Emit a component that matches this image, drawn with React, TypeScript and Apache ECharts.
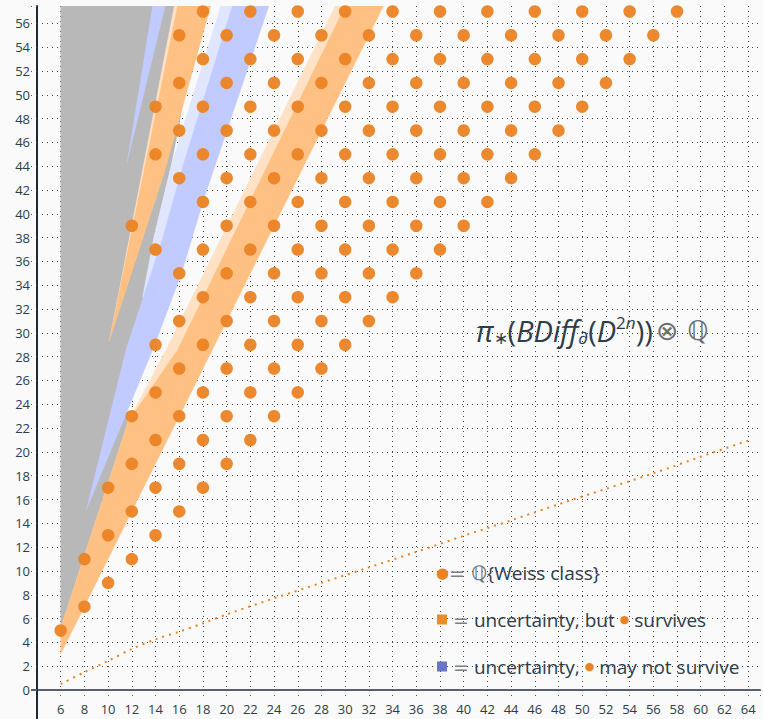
import React, { useEffect, useRef } from 'react';
import * as echarts from 'echarts';

// ---- axis ranges & tick labels ----
const X_MIN = 4;
const X_MAX = 65;
const Y_MIN = 0;
const Y_MAX = 57.46;
const xTickLabels = [6, 8, 10, 12, 14, 16, 18, 20, 22, 24, 26, 28, 30, 32, 34, 36, 38, 40, 42, 44, 46, 48, 50, 52, 54, 56, 58, 60, 62, 64];
const yTickLabels = [0, 2, 4, 6, 8, 10, 12, 14, 16, 18, 20, 22, 24, 26, 28, 30, 32, 34, 36, 38, 40, 42, 44, 46, 48, 50, 52, 54, 56];

// ---- Weiss classes: one row per degree y, listing the x positions ----
const weissRowY = [5, 7, 9, 11, 13, 15, 17, 19, 21, 23, 25, 27, 29, 31, 33, 35, 37, 39, 41, 43, 45, 47, 49, 51, 53, 55, 57];
const weissRowX = [
  [6],
  [8],
  [10],
  [8, 12],
  [10, 14],
  [12, 16],
  [10, 14, 18],
  [12, 16, 20],
  [14, 18, 22],
  [12, 16, 20, 24],
  [14, 18, 22, 26],
  [16, 20, 24, 28],
  [14, 18, 22, 26, 30],
  [16, 20, 24, 28, 32],
  [18, 22, 26, 30, 34],
  [16, 20, 24, 28, 32, 36],
  [14, 18, 22, 26, 30, 34, 38],
  [12, 20, 24, 28, 32, 36, 40],
  [18, 22, 26, 30, 34, 38, 42],
  [16, 20, 24, 28, 32, 36, 40, 44],
  [14, 18, 22, 26, 30, 34, 38, 42, 46],
  [16, 20, 24, 28, 32, 36, 40, 44, 48],
  [14, 18, 22, 26, 30, 34, 38, 42, 46, 50],
  [16, 20, 24, 28, 32, 36, 40, 44, 48, 52],
  [18, 22, 26, 30, 34, 38, 42, 46, 50, 54],
  [16, 20, 24, 28, 32, 36, 40, 44, 48, 52, 56],
  [18, 22, 26, 30, 34, 38, 42, 46, 50, 54, 58],
];

// ---- dotted boundary curve ----
const curveX = [6, 8, 10, 12, 14, 16, 18, 20, 24, 28, 32, 36, 40, 44, 48, 52, 56, 60, 64];
const curveY = [0.5, 1.5, 2.45, 3.45, 4.25, 4.9, 5.6, 6.35, 7.7, 9.0, 10.3, 11.6, 12.95, 14.25, 15.6, 16.9, 18.2, 19.6, 20.95];

// ---- shaded regions (data coordinates) ----
const grayRegion = [[6, 5.2], [6, 57.46], [17.6, 57.46], [16.0, 47.5], [15.3, 44], [13.85, 38], [13.0, 30], [11.5, 24], [11.67, 22.54]];
const peachBand = [[11.67, 22.54], [14.88, 28.56], [29.16, 57.46], [33.23, 57.46], [15.77, 22.54]];
const orangeBand = [[6, 3], [6, 5.2], [11.67, 22.54], [15.85, 28.56], [30.0, 57.46], [33.23, 57.46]];
const lightBlueBand = [[12.9, 33], [13.85, 38], [15.3, 44], [19.5, 57.46], [21.0, 57.46], [15.0, 33]];
const blueBand = [[8.15, 15.1], [11.5, 28.56], [14.6, 38], [16.3, 44], [20.47, 57.46], [23.56, 57.46], [18.0, 41], [16.2, 35], [13.9, 28.9]];
const blueSliver = [[11.6, 44.3], [13.75, 57.46], [14.82, 57.46]];
const peachWedge = [[10.1, 29.3], [15.58, 57.46], [15.95, 57.46]];
const orangeWedge = [[10.1, 29.3], [15.85, 57.46], [18.66, 57.46], [14.7, 43.3]];

const GRAY = '#B8B8B8';
const PEACH = '#FFE2C5';
const ORANGE = '#FFC183';
const LIGHT_BLUE = '#E1E6FF';
const BLUE = '#C1CBFF';
const DOT = '#EB8323';
const TEXT = '#2E3D4A';
const FONT = 'Open Sans';

const regions = [
  { pts: grayRegion, color: GRAY },
  { pts: peachBand, color: PEACH },
  { pts: orangeBand, color: ORANGE },
  { pts: lightBlueBand, color: LIGHT_BLUE },
  { pts: blueBand, color: BLUE },
  { pts: blueSliver, color: BLUE },
  { pts: peachWedge, color: PEACH },
  { pts: orangeWedge, color: ORANGE },
];

export default function App() {
  const ref = useRef<HTMLDivElement>(null);

  useEffect(() => {
    if (!ref.current) return;
    const chart = echarts.init(ref.current, undefined, { renderer: 'svg' });

    const weissData: number[][] = [];
    weissRowY.forEach((y, i) => weissRowX[i].forEach((x) => weissData.push([x, y])));
    const curveData = curveX.map((x, i) => [x, curveY[i]]);

    chart.setOption({
      animation: false,
      backgroundColor: '#FAFAFA',
      grid: { left: 37, right: 0, top: 6, bottom: 29, containLabel: false },
      xAxis: {
        type: 'value',
        min: X_MIN,
        max: X_MAX,
        interval: 2,
        axisLine: { onZero: false, lineStyle: { color: '#56616B', width: 2 } },
        axisTick: { show: true, length: 6, lineStyle: { color: '#555', width: 1, type: [1, 4] } },
        axisLabel: {
          color: TEXT,
          fontSize: 13,
          fontFamily: FONT,
          margin: 12,
          formatter: (v: number) => (xTickLabels.indexOf(v) >= 0 ? String(v) : ''),
        },
        splitLine: {
          show: true,
          showMinLine: false,
          showMaxLine: false,
          lineStyle: { color: '#444', width: 1, type: [1, 4] },
        },
      },
      yAxis: {
        type: 'value',
        min: Y_MIN,
        max: Y_MAX,
        interval: 2,
        axisLine: { show: true, lineStyle: { color: '#1C2833', width: 2 } },
        axisTick: { show: true, length: 6, lineStyle: { color: '#555', width: 1, type: [1, 4] } },
        axisLabel: {
          color: TEXT,
          fontSize: 13,
          fontFamily: FONT,
          margin: 7,
          formatter: (v: number) => (yTickLabels.indexOf(v) >= 0 ? String(v) : ''),
        },
        splitLine: {
          show: true,
          showMinLine: false,
          showMaxLine: false,
          lineStyle: { color: '#444', width: 1, type: [1, 4] },
        },
      },
      series: [
        {
          type: 'custom',
          coordinateSystem: 'cartesian2d',
          clip: true,
          silent: true,
          z: 2,
          data: regions.map((r) => r.pts[0]),
          renderItem: (params: any, api: any) => {
            const r = regions[params.dataIndex];
            return {
              type: 'polygon',
              shape: { points: r.pts.map((p) => api.coord(p)) },
              style: { fill: r.color, stroke: r.color, lineWidth: 0.3 },
            };
          },
        },
        {
          type: 'line',
          data: curveData,
          showSymbol: false,
          smooth: 0.3,
          z: 3,
          silent: true,
          lineStyle: { color: DOT, width: 2, type: [2, 5] },
        },
        {
          type: 'scatter',
          data: weissData,
          symbol: 'circle',
          symbolSize: 12.5,
          z: 4,
          silent: true,
          itemStyle: { color: DOT, opacity: 0.95 },
        },
      ],
      graphic: [
        { type: 'line', shape: { x1: 37, y1: 684, x2: 37, y2: 719 }, style: { stroke: '#1C2833', lineWidth: 2 }, z: 50 },
        { type: 'line', shape: { x1: 31, y1: 690, x2: 37, y2: 690 }, style: { stroke: '#56616B', lineWidth: 2 }, z: 50 },
        // formula
        {
          type: 'text',
          left: 476,
          top: 314,
          z: 60,
          style: {
            text: '{n|π}{s|∗}{u|(}{i|BDiff}{s|∂}{u|(}{i|D}{p|2}{pi|n}{u|))} {g|⊗ ℚ}',
            rich: {
              n: { fontSize: 29, fontFamily: FONT, fontStyle: 'italic', fill: TEXT, lineHeight: 40 },
              u: { fontSize: 29, fontFamily: FONT, fill: TEXT, lineHeight: 40 },
              i: { fontSize: 29, fontFamily: FONT, fontStyle: 'italic', fill: TEXT, lineHeight: 40 },
              s: { fontSize: 17, fontFamily: FONT, fill: TEXT, lineHeight: 40, padding: [14, 0, 0, 0] },
              p: { fontSize: 17, fontFamily: FONT, fill: TEXT, lineHeight: 40, padding: [0, 0, 15, 0] },
              pi: { fontSize: 17, fontFamily: FONT, fontStyle: 'italic', fill: TEXT, lineHeight: 40, padding: [0, 0, 15, 0] },
              g: { fontSize: 27, fontFamily: 'DejaVu Sans', fill: '#6A6F73', lineHeight: 40 },
            },
          },
        },
        // legend
        {
          type: 'text',
          left: 436,
          top: 559,
          z: 60,
          style: {
            text: '{dot|●}{eq|=}{bb| ℚ}{Weiss class}',
            fontSize: 19,
            fontFamily: FONT,
            fill: TEXT,
            lineHeight: 27,
            rich: {
              dot: { fontSize: 15, fontFamily: 'DejaVu Sans', fill: DOT, lineHeight: 27 },
              eq: { fontSize: 19, fontFamily: 'DejaVu Sans', fill: '#7A8087', lineHeight: 27 },
              bb: { fontSize: 20, fontFamily: 'DejaVu Sans', fill: '#6A6F73', lineHeight: 27 },
            },
          },
        },
        {
          type: 'text',
          left: 437,
          top: 606,
          z: 60,
          style: {
            text: '{sq| }{eq| =} uncertainty, but {sd|●} survives',
            fontSize: 19,
            fontFamily: FONT,
            fill: TEXT,
            lineHeight: 27,
            rich: {
              sq: { width: 10, height: 10, backgroundColor: '#F08A24', fontSize: 10, lineHeight: 27 },
              eq: { fontSize: 19, fontFamily: 'DejaVu Sans', fill: '#7A8087', lineHeight: 27 },
              sd: { fontSize: 11, fontFamily: 'DejaVu Sans', fill: DOT, lineHeight: 27 },
            },
          },
        },
        {
          type: 'text',
          left: 437,
          top: 653,
          z: 60,
          style: {
            text: '{sq| }{eq| =} uncertainty, {sd|●} may not survive',
            fontSize: 19,
            fontFamily: FONT,
            fill: TEXT,
            lineHeight: 27,
            rich: {
              sq: { width: 10, height: 10, backgroundColor: '#6B75C8', fontSize: 10, lineHeight: 27 },
              eq: { fontSize: 19, fontFamily: 'DejaVu Sans', fill: '#7A8087', lineHeight: 27 },
              sd: { fontSize: 11, fontFamily: 'DejaVu Sans', fill: DOT, lineHeight: 27 },
            },
          },
        },
      ],
    });

    return () => chart.dispose();
  }, []);

  return (
    <div
      ref={ref}
      style={{ position: 'fixed', left: 0, top: 0, width: 763, height: 719, background: '#FAFAFA' }}
    />
  );
}
